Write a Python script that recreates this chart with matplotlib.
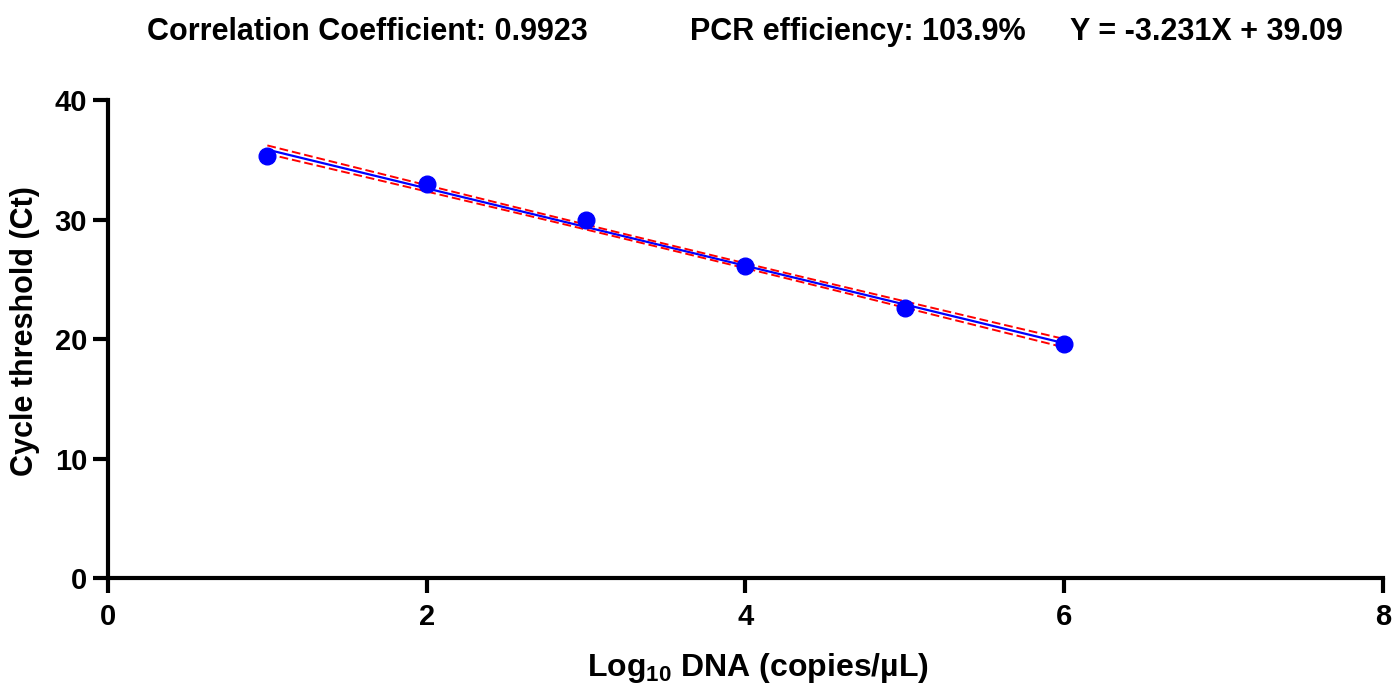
import numpy as np
import matplotlib
matplotlib.use("Agg")
import matplotlib.pyplot as plt

# standard curve points (mean Ct of each dilution)
log_dna = [1, 2, 3, 4, 5, 6]
ct_values = [35.3, 32.95, 29.95, 26.1, 22.6, 19.6]
n_replicates = 3  # assumed replicates per dilution, sets band width

# text shown above the plot
r2_text = "Correlation Coefficient: 0.9923"
eff_text = "PCR efficiency: 103.9%"
eq_text = "Y = -3.231X + 39.09"

plt.rcParams['font.family'] = ['Liberation Sans', 'DejaVu Sans']
plt.rcParams['font.weight'] = 'bold'
plt.rcParams['mathtext.fontset'] = 'custom'
plt.rcParams['mathtext.rm'] = 'Liberation Sans:bold'
plt.rcParams['mathtext.default'] = 'rm'


def fit_with_band(x, y, reps):
    """linear fit plus 95% confidence band of the line"""
    x = np.repeat(np.asarray(x, float), reps)
    y = np.repeat(np.asarray(y, float), reps)
    slope, icpt = np.polyfit(x, y, 1)
    resid = y - (slope * x + icpt)
    n = len(x)
    s = np.sqrt(np.sum(resid ** 2) / (n - 2))
    t = 2.12  # t(0.975, df=16)
    xs = np.linspace(x.min(), x.max(), 100)
    ys = slope * xs + icpt
    se = s * np.sqrt(1 / n + (xs - x.mean()) ** 2 / np.sum((x - x.mean()) ** 2))
    return xs, ys, ys - t * se, ys + t * se


xs, ys, lo, hi = fit_with_band(log_dna, ct_values, n_replicates)

fig = plt.figure(figsize=(13.93, 6.9), dpi=100)
ax = fig.add_axes([0.0775, 0.1623, 0.9153, 0.6927])

ax.plot(xs, ys, color='#0000ff', lw=1.6, zorder=2)
ax.plot(xs, lo, color='#ff0000', lw=1.4, ls=(0, (4.5, 2)), zorder=2)
ax.plot(xs, hi, color='#ff0000', lw=1.4, ls=(0, (4.5, 2)), zorder=2)
ax.plot(log_dna, ct_values, 'o', color='#0000ff', ms=12, zorder=3, clip_on=False)

ax.set_xlim(0, 8)
ax.set_ylim(0, 40)
ax.set_xticks([0, 2, 4, 6, 8])
ax.set_yticks([0, 10, 20, 30, 40])

for side in ['top', 'right']:
    ax.spines[side].set_visible(False)
for side in ['left', 'bottom']:
    ax.spines[side].set_linewidth(3)
ax.tick_params(width=3, length=11, labelsize=21)
ax.tick_params(axis='x', pad=7)
ax.tick_params(axis='y', pad=4)
for lbl in ax.get_xticklabels() + ax.get_yticklabels():
    lbl.set_fontweight('bold')

ax.set_xlabel(r"Log$_{10}$ DNA (copies/µL)", fontsize=23, fontweight='bold')
ax.set_ylabel("Cycle threshold (Ct)", fontsize=22, fontweight='bold')
ax.xaxis.set_label_coords(0.51, -0.152)
ax.yaxis.set_label_coords(-0.053, 0.517)

fig.text(0.2637, 0.953, r2_text, ha='center', va='center', fontsize=22, fontweight='bold')
fig.text(0.616, 0.953, eff_text, ha='center', va='center', fontsize=22, fontweight='bold')
fig.text(0.866, 0.953, eq_text, ha='center', va='center', fontsize=22, fontweight='bold')

fig.savefig("out.png", dpi=100)
